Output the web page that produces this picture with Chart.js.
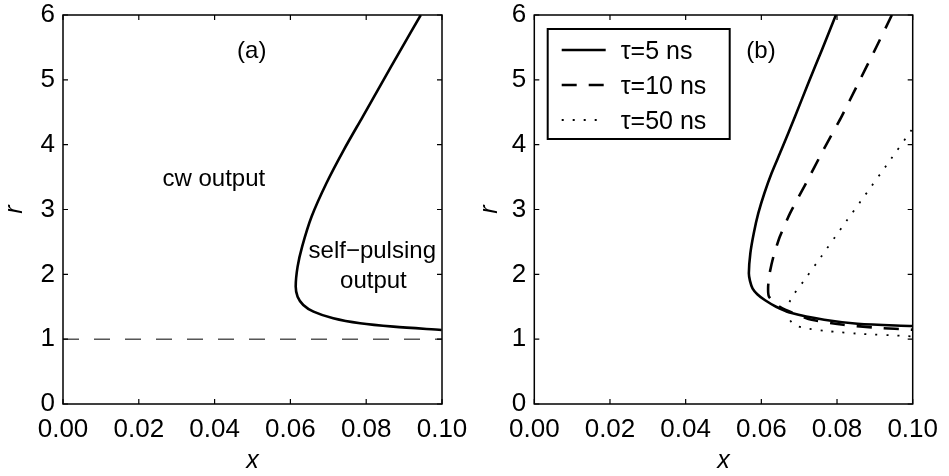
<!DOCTYPE html>
<html><head><meta charset="utf-8">
<script src="https://cdn.jsdelivr.net/npm/chart.js@4.4.1/dist/chart.umd.min.js"></script>
<style>
html,body{margin:0;padding:0;background:#fff;}
#wrap{position:relative;width:949px;height:476px;overflow:hidden;background:#fff;}
canvas{position:absolute;top:0;}
#a{left:0;}
#b{left:475px;}
</style></head><body>
<div id="wrap"><canvas id="a" width="475" height="476"></canvas><canvas id="b" width="474" height="476"></canvas></div>
<script>
// ---- data ----
const xTicks = [0, 0.02, 0.04, 0.06, 0.08, 0.10];
const rTicks = [0, 1, 2, 3, 4, 5, 6];

// panel (a): boundary of self-pulsing region
const aX = [0.0944, 0.0891, 0.0841, 0.0791, 0.0741, 0.0695, 0.0656, 0.0631, 0.0619, 0.0614, 0.0619, 0.0634, 0.0661, 0.0713, 0.0784, 0.0872, 0.0999];
const aR = [6.000, 5.463, 4.949, 4.434, 3.920, 3.405, 2.891, 2.428, 2.119, 1.811, 1.656, 1.528, 1.425, 1.322, 1.245, 1.193, 1.142];
// panel (a): threshold r = 1
const thX = [0.0, 0.1];
const thR = [1, 1];

// panel (b): three lifetimes
const b5X = [0.0797, 0.0760, 0.0724, 0.0689, 0.0653, 0.0627, 0.0608, 0.0592, 0.0580, 0.0571, 0.0567, 0.0570, 0.0577, 0.0590, 0.0610, 0.0639, 0.0680, 0.0766, 0.0854, 0.1000];
const b5R = [6.000, 5.461, 4.948, 4.434, 3.920, 3.559, 3.251, 2.943, 2.635, 2.327, 2.018, 1.900, 1.780, 1.690, 1.600, 1.500, 1.402, 1.299, 1.238, 1.202];
const b10X = [0.0945, 0.0900, 0.0856, 0.0812, 0.0764, 0.0718, 0.0676, 0.0649, 0.0632, 0.0622, 0.0618, 0.0620, 0.0641, 0.0663, 0.0733, 0.0817, 0.0905, 0.1000];
const b10R = [6.000, 5.460, 4.946, 4.433, 3.919, 3.405, 2.943, 2.583, 2.275, 2.018, 1.813, 1.659, 1.531, 1.454, 1.299, 1.222, 1.176, 1.145];
const b50X = [0.0997, 0.0936, 0.0874, 0.0812, 0.0751, 0.0711, 0.0685, 0.0671, 0.0667, 0.0686, 0.0715, 0.0782, 0.0870, 0.0967, 0.0997];
const b50R = [4.227, 3.724, 3.220, 2.717, 2.214, 1.890, 1.685, 1.531, 1.376, 1.222, 1.171, 1.120, 1.079, 1.053, 1.043];

const seriesLabels = ['τ=5 ns', 'τ=10 ns', 'τ=50 ns'];
const notesA = ['(a)', 'cw output', 'self\u2212pulsing', 'output'];
const notesAX = [0.0498, 0.0398, 0.0816, 0.0819];
const notesAR = [5.44, 3.46, 2.35, 1.89];
const notesB = ['(b)'];
const notesBX = [0.0599];
const notesBR = [5.44];

// ---- helpers ----
const FONT = "'Liberation Sans', Arial, Helvetica, sans-serif";
const pts = (xs, ys) => xs.map((v, i) => ({x: v, y: ys[i]}));

const framePlugin = {
  id: 'frame',
  afterDatasetsDraw(chart) {
    const {ctx, chartArea: a, scales: {x, y}} = chart;
    ctx.save();
    ctx.setLineDash([]);
    ctx.strokeStyle = '#000';
    ctx.lineWidth = 1.5;
    ctx.strokeRect(a.left, a.top, a.right - a.left, a.bottom - a.top);
    const L = 5;
    ctx.lineWidth = 1.2;
    ctx.beginPath();
    x.ticks.forEach(t => {
      const p = x.getPixelForValue(t.value);
      ctx.moveTo(p, a.bottom); ctx.lineTo(p, a.bottom - L);
      ctx.moveTo(p, a.top); ctx.lineTo(p, a.top + L);
    });
    y.ticks.forEach(t => {
      const p = y.getPixelForValue(t.value);
      ctx.moveTo(a.left, p); ctx.lineTo(a.left + L, p);
      ctx.moveTo(a.right, p); ctx.lineTo(a.right - L, p);
    });
    ctx.stroke();
    ctx.restore();
  }
};

const notesPlugin = {
  id: 'notes',
  afterDraw(chart, args, o) {
    if (!o || !o.text) return;
    const {ctx, scales: {x, y}} = chart;
    ctx.save();
    ctx.fillStyle = '#000';
    ctx.font = '24px ' + FONT;
    ctx.textAlign = 'center';
    ctx.textBaseline = 'middle';
    o.text.forEach((t, i) => ctx.fillText(t, x.getPixelForValue(o.xs[i]), y.getPixelForValue(o.ys[i])));
    ctx.restore();
  }
};

const boxLegend = {
  id: 'boxLegend',
  afterDraw(chart, args, o) {
    if (!o || !o.show) return;
    const {ctx, chartArea: a} = chart;
    const bx = a.left + o.dx, by = a.top + o.dy;
    ctx.save();
    ctx.fillStyle = '#fff';
    ctx.fillRect(bx, by, o.w, o.h);
    ctx.strokeStyle = '#000';
    ctx.lineWidth = 2;
    ctx.setLineDash([]);
    ctx.strokeRect(bx, by, o.w, o.h);
    chart.data.datasets.forEach((ds, i) => {
      const yy = by + o.row0 + i * o.gap;
      ctx.beginPath();
      ctx.setLineDash(ds.borderDash || []);
      ctx.lineWidth = ds.borderWidth;
      ctx.lineCap = 'butt';
      ctx.moveTo(bx + o.s0, yy);
      ctx.lineTo(bx + o.s1, yy);
      ctx.stroke();
      ctx.setLineDash([]);
      ctx.fillStyle = '#000';
      ctx.font = '25px ' + FONT;
      ctx.textAlign = 'left';
      ctx.textBaseline = 'middle';
      ctx.fillText(ds.label, bx + o.tx, yy + 2);
    });
    ctx.restore();
  }
};

function makeChart(id, datasets, yWidth, rightPad, notes, legend) {
  return new Chart(document.getElementById(id), {
    type: 'scatter',
    data: {datasets},
    options: {
      responsive: false,
      animation: false,
      layout: {padding: {top: 15, right: rightPad, left: 0, bottom: 0}},
      plugins: {
        legend: {display: false},
        tooltip: {enabled: false},
        notes: notes,
        boxLegend: legend
      },
      scales: {
        x: {
          type: 'linear', min: 0, max: 0.1,
          afterBuildTicks: s => { s.ticks = xTicks.map(v => ({value: v})); },
          afterFit: s => { s.height = 72; s.paddingLeft = 0; s.paddingRight = 0; s.paddingTop = 0; s.paddingBottom = 0; },
          ticks: {callback: v => Number(v).toFixed(2), color: '#000', font: {family: FONT, size: 26, lineHeight: 1}, padding: 13, maxRotation: 0, autoSkip: false},
          grid: {display: false, drawTicks: false},
          border: {display: false},
          title: {display: true, text: 'x', color: '#000', font: {family: FONT, size: 25, style: 'italic'}, padding: {top: 0, bottom: 0}}
        },
        y: {
          type: 'linear', min: 0, max: 6,
          afterBuildTicks: s => { s.ticks = rTicks.map(v => ({value: v})); },
          afterFit: s => { s.width = yWidth; s.paddingLeft = 0; s.paddingRight = 0; s.paddingTop = 0; s.paddingBottom = 0; },
          ticks: {callback: v => String(v), color: '#000', font: {family: FONT, size: 26, lineHeight: 1}, padding: 8, autoSkip: false},
          grid: {display: false, drawTicks: false},
          border: {display: false},
          title: {display: true, text: 'r', color: '#000', font: {family: FONT, size: 25, style: 'italic'}, padding: {top: 0, bottom: 0}}
        }
      }
    },
    plugins: [framePlugin, notesPlugin, boxLegend]
  });
}

const lineBase = {showLine: true, pointRadius: 0, borderColor: '#000', backgroundColor: '#000', fill: false, tension: 0.3, borderCapStyle: 'butt', borderJoinStyle: 'round'};

makeChart('a', [
  Object.assign({}, lineBase, {label: 'boundary', data: pts(aX, aR), borderWidth: 2.6}),
  Object.assign({}, lineBase, {label: 'r=1', data: pts(thX, thR), borderWidth: 1, borderDash: [16, 15], tension: 0})
], 63, 33, {text: notesA, xs: notesAX, ys: notesAR}, {show: false});

makeChart('b', [
  Object.assign({}, lineBase, {label: seriesLabels[0], data: pts(b5X, b5R), borderWidth: 2.6}),
  Object.assign({}, lineBase, {label: seriesLabels[1], data: pts(b10X, b10R), borderWidth: 2.6, borderDash: [15, 12], tension: 0.2}),
  Object.assign({}, lineBase, {label: seriesLabels[2], data: pts(b50X, b50R), borderWidth: 1.8, borderDash: [2, 9], tension: 0.2})
], 59.3, 36.3, {text: notesB, xs: notesBX, ys: notesBR},
  {show: true, dx: 13.4, dy: 14, w: 182, h: 110, row0: 21, gap: 35, s0: 14, s1: 58, tx: 73});
</script>
</body></html>
